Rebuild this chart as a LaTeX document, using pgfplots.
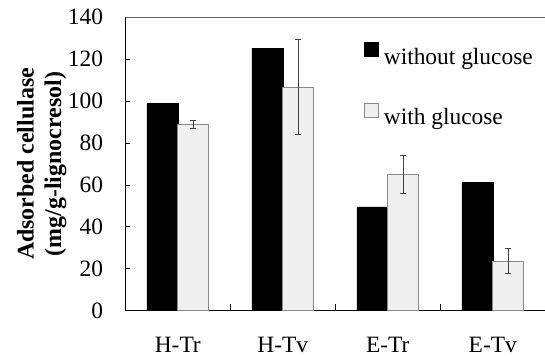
\documentclass[border=0pt]{standalone}
\usepackage{fontspec}
\setmainfont{Liberation Serif}
\usepackage{pgfplots}
\pgfplotsset{compat=1.18}
\definecolor{lightbar}{HTML}{F0F0F0}
\definecolor{baredge}{HTML}{8A8A8A}
\definecolor{errcol}{HTML}{404040}
\definecolor{topline}{HTML}{606060}
\begin{document}
\begin{tikzpicture}
\begin{axis}[
  at={(0,0)}, anchor=south west,
  scale only axis, width=420bp, height=293.4bp,
  ybar=0pt, bar width=31bp,
  xmin=-0.5, xmax=3.5, ymin=0, ymax=140,
  axis lines*=left,
  axis line style={-, black, line width=0.9bp},
  x axis line style={-}, y axis line style={-},
  xtick={0,1,2,3}, xticklabels={H-Tr,H-Tv,E-Tr,E-Tv},
  major x tick style={draw=none},
  minor xtick={0.5,1.5,2.5}, minor tick length=7bp,
  ytick={0,20,...,140}, major tick length=5bp,
  tick align=inside,
  tick style={black, line width=0.8bp},
  /pgf/number format/assume math mode=true,
  tick label style={font=\rmfamily\fontsize{23.5}{28}\selectfont},
  yticklabel style={inner sep=0pt, anchor=east, xshift=-22bp},
  xticklabel style={inner sep=0pt, anchor=base, yshift=-41.3bp},
  ylabel={Adsorbed cellulase\\(mg/g-lignocresol)},
  ylabel style={at={(axis description cs:-0.199,0.5)}, anchor=center, align=center,
    font=\rmfamily\bfseries\fontsize{24}{27.8}\selectfont},
  legend style={draw=none, fill=none, at={(axis description cs:0.568,0.915)},
    anchor=north west, inner sep=0pt, row sep=37bp, column sep=5bp,
    font=\rmfamily\fontsize{23.5}{28}\selectfont, cells={anchor=west},
    nodes={inner sep=0pt}},
  legend cell align=left,
]
\addplot[fill=black, draw=black,
  legend image code/.code={\draw[fill=black, draw=black] (0bp,0bp) rectangle (14bp,14bp);}]
  coordinates {(0,98.8) (1,125.2) (2,49.5) (3,61.1)};
\addlegendentry{without glucose}
\addplot[fill=lightbar, draw=baredge, line width=0.8bp,
  legend image code/.code={\draw[fill=lightbar, draw=baredge, line width=0.8bp] (0bp,0bp) rectangle (14bp,14bp);},
  error bars/.cd, y dir=both, y explicit,
  error bar style={errcol, line width=0.9bp},
  error mark options={rotate=90, mark size=3bp, errcol, line width=0.9bp}]
  coordinates {(0,88.9) +- (0,1.9) (1,106.7) +- (0,22.75) (2,65.0) +- (0,8.9) (3,23.7) +- (0,5.9)};
\addlegendentry{with glucose}
\draw[topline, line width=0.9bp] (rel axis cs:0,1) -- (rel axis cs:1,1);
\end{axis}
\pgfresetboundingbox
\useasboundingbox (-125.3bp,-45.3bp) rectangle (419.7bp,310.7bp);
\end{tikzpicture}
\end{document}
